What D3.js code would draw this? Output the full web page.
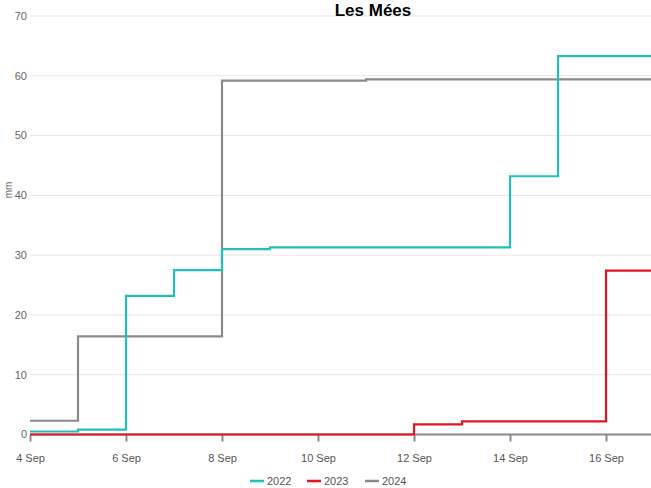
<!DOCTYPE html>
<html><head><meta charset="utf-8">
<script src="https://cdn.jsdelivr.net/npm/d3@7"></script>
<style>
html,body{margin:0;padding:0;background:#fff;overflow:hidden}
text{font-family:"Liberation Sans Narrow","Arial Narrow","Liberation Sans",Arial,sans-serif}
</style></head>
<body><svg id="c" width="651" height="488"></svg>
<script>
const days = ["2024-09-04","2024-09-05","2024-09-06","2024-09-07","2024-09-08","2024-09-09","2024-09-10","2024-09-11","2024-09-12","2024-09-13","2024-09-14","2024-09-15","2024-09-16","2024-09-17"];
const s2022 = [0.5, 0.8, 23.2, 27.5, 31.0, 31.3, 31.3, 31.3, 31.3, 31.3, 43.2, 63.3, 63.3, 63.3];
const s2023 = [0, 0, 0, 0, 0, 0, 0, 0, 1.7, 2.2, 2.2, 2.2, 27.4, 27.4];
const s2024 = [2.3, 16.4, 16.4, 16.4, 59.2, 59.2, 59.2, 59.4, 59.4, 59.4, 59.4, 59.4, 59.4, 59.4];
const yTicks = [0, 10, 20, 30, 40, 50, 60, 70];
const xTickDays = ["2024-09-04","2024-09-06","2024-09-08","2024-09-10","2024-09-12","2024-09-14","2024-09-16"];
const seriesNames = ["2022", "2023", "2024"];
const colors = {"2022":"#22bfc0","2023":"#e3151f","2024":"#8a8a8a"};

const parse = d3.utcParse("%Y-%m-%d");
const dates = days.map(parse);
const svg = d3.select("#c");
const x = d3.scaleUtc().domain([dates[0], dates[dates.length-1]]).range([30, 654]);
const y = d3.scaleLinear().domain([0, 70]).range([434.5, 16]);

// grid
svg.append("g").selectAll("line").data(yTicks.filter(v=>v>0)).join("line")
  .attr("x1", 30).attr("x2", 651).attr("y1", d=>y(d)).attr("y2", d=>y(d))
  .attr("stroke", "#e6e6e6").attr("stroke-width", 1);

// y labels
svg.append("g").selectAll("text").data(yTicks).join("text")
  .attr("x", 27).attr("y", d=>y(d)).attr("dy", "0.35em")
  .attr("text-anchor", "end").attr("font-size", 11).attr("fill", "#666")
  .text(d=>d);

svg.append("text").attr("transform", "translate(12,190) rotate(-90)")
  .attr("text-anchor", "middle").attr("font-size", 10).attr("fill", "#666").text("mm");

// x axis
const xAxis = d3.axisBottom(x)
  .tickValues(xTickDays.map(parse))
  .tickFormat(d3.utcFormat("%-d Sep"))
  .tickSize(7).tickSizeOuter(0);
const gx = svg.append("g").attr("transform", `translate(0,${y(0)})`).call(xAxis);
gx.select(".domain").attr("stroke", "#8a8a8a").attr("stroke-width", 2).attr("d", `M30,0H651`);
gx.selectAll(".tick line").attr("stroke", "#8a8a8a").attr("stroke-width", 2);
gx.selectAll(".tick text").attr("font-size", 11).attr("fill", "#555").attr("dy", "1.6em")
  .attr("font-family", "Liberation Sans Narrow, Arial Narrow, Liberation Sans, Arial, sans-serif");

// lines
const line = d3.line().x(d=>x(d[0])).y(d=>y(d[1])).curve(d3.curveStepAfter);
const data = {"2022": s2022, "2023": s2023, "2024": s2024};
const order = ["2024", "2022", "2023"];
order.forEach(name => {
  const pts = dates.map((d,i)=>[d, data[name][i]]);
  svg.append("path").datum(pts).attr("d", line)
    .attr("fill", "none").attr("stroke", colors[name]).attr("stroke-width", 2.2);
});

// title
svg.append("text").attr("x", 373).attr("y", 16).attr("text-anchor", "middle")
  .attr("font-size", 17).attr("font-weight", "bold").attr("fill", "#000")
  .style("font-family", "Liberation Sans, Arial, sans-serif")
  .text("Les Mées");

// legend
const lg = svg.append("g");
const lx = [250, 307, 365];
seriesNames.forEach((n, i) => {
  lg.append("line").attr("x1", lx[i]).attr("x2", lx[i]+14).attr("y1", 481).attr("y2", 481)
    .attr("stroke", colors[n]).attr("stroke-width", 2.5);
  lg.append("text").attr("x", lx[i]+17).attr("y", 481).attr("dy", "0.35em")
    .attr("font-size", 11).attr("fill", "#555").text(n);
});
</script></body></html>
